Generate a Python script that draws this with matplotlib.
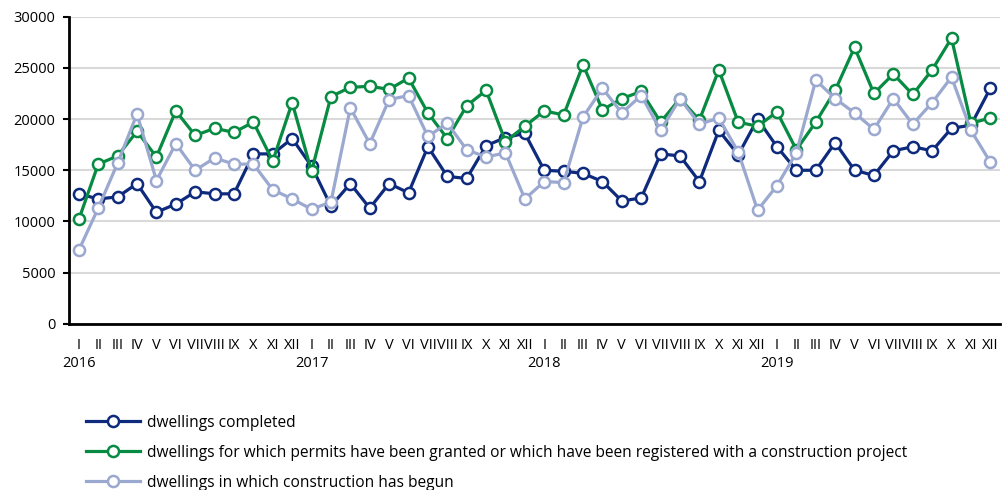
import matplotlib
matplotlib.use("Agg")
import matplotlib.pyplot as plt
import numpy as np

plt.rcParams['font.family'] = ['Open Sans', 'DejaVu Sans']

# region Data
years = ['2016', '2017', '2018', '2019']
months = ['I', 'II', 'III', 'IV', 'V', 'VI', 'VII', 'VIII', 'IX', 'X', 'XI', 'XII']

completed = [12700, 12200, 12400, 13700, 10900, 11700, 12900, 12700, 12700, 16600, 16600, 18100,
             15400, 11500, 13700, 11300, 13700, 12800, 17300, 14400, 14200, 17400, 18200, 18600,
             15000, 14900, 14700, 13900, 12000, 12300, 16600, 16400, 13900, 18900, 16500, 20000,
             17300, 15000, 15000, 17700, 15000, 14500, 16900, 17300, 16900, 19100, 19400, 23000]

permits = [10200, 15600, 16400, 18800, 16300, 20800, 18400, 19100, 18700, 19700, 15900, 21600,
           14900, 22200, 23100, 23200, 22900, 24000, 20600, 18100, 21300, 22800, 17800, 19300,
           20800, 20400, 25300, 20900, 22000, 22700, 19700, 22000, 19900, 24800, 19700, 19300,
           20700, 17000, 19700, 22800, 27000, 22500, 24400, 22400, 24800, 27900, 19600, 20100]

begun = [7200, 11300, 15700, 20500, 14000, 17600, 15000, 16200, 15600, 15600, 13100, 12200,
         11200, 11900, 21100, 17600, 21900, 22300, 18300, 19600, 17000, 16300, 16700, 12200,
         13900, 13800, 20200, 23000, 20600, 22300, 18900, 22000, 19500, 20100, 16800, 11100,
         13500, 16700, 23800, 22000, 20600, 19000, 22000, 19500, 21600, 24100, 18900, 15800]

series_labels = ['dwellings completed',
                 'dwellings for which permits have been granted or which have been registered with a construction project',
                 'dwellings in which construction has begun']
# endregion

colors = ['#0d2a7c', '#078a41', '#9ba8cf']
x = np.arange(len(completed))

fig = plt.figure(figsize=(10.02, 4.90), dpi=100)
ax = fig.add_axes([0.069, 0.339, 0.929, 0.627])

for vals, lab, col in zip([completed, permits, begun], series_labels, colors):
    ax.plot(x, vals, color=col, lw=2.3, marker='o', ms=8, mfc='white', mec=col, mew=1.8,
            label=lab, zorder=3, clip_on=False)

ax.set_xlim(-0.5, len(x) - 0.5)
ax.set_ylim(0, 30000)
ax.set_yticks(np.arange(0, 30001, 5000))
ax.yaxis.grid(True, color='#d9d9d9', lw=1.5)
ax.set_axisbelow(True)

for s in ['top', 'right']:
    ax.spines[s].set_visible(False)
for s in ['left', 'bottom']:
    ax.spines[s].set_linewidth(2)
    ax.spines[s].set_color('black')

ax.set_xticks(x)
ax.set_xticklabels(months * len(years))
ax.tick_params(axis='x', length=0, pad=10, labelsize=10.5)
ax.tick_params(axis='y', length=4, width=1.5, labelsize=10.5, pad=6)

for i, yr in enumerate(years):
    ax.text(i * 12, -0.105, yr, transform=ax.get_xaxis_transform(), ha='center', va='top', fontsize=10.5)

ax.legend(loc='upper left', bbox_to_anchor=(0.003, -0.25), frameon=False, fontsize=11.2,
          handlelength=3.5, labelspacing=0.9, handletextpad=0.4)

fig.savefig('out.png', dpi=100)
